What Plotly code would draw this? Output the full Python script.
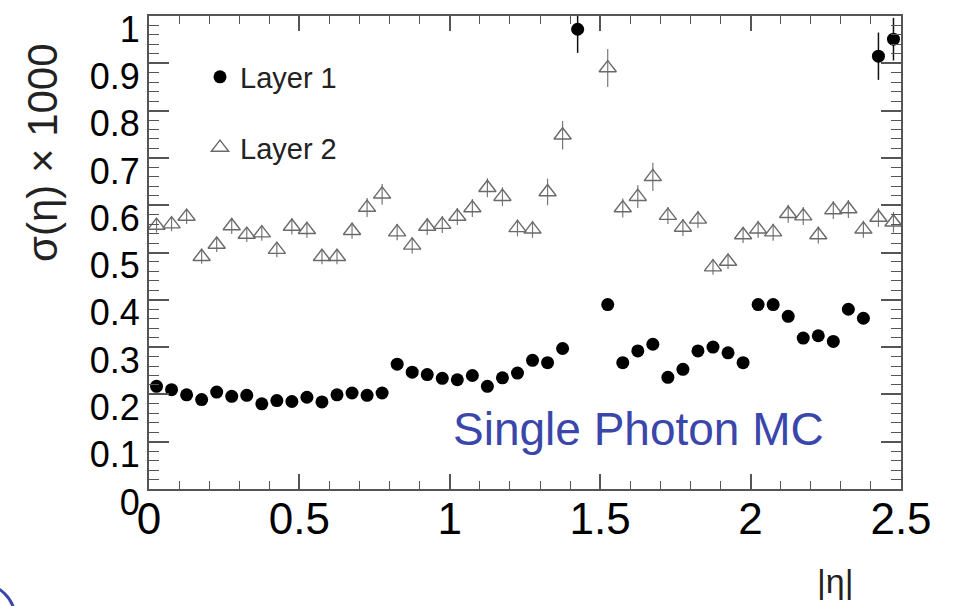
import plotly.graph_objects as go

# |eta| bin centres
eta = [0.025, 0.075, 0.125, 0.175, 0.225, 0.275, 0.325, 0.375, 0.425, 0.475,
       0.525, 0.575, 0.625, 0.675, 0.725, 0.775, 0.825, 0.875, 0.925, 0.975,
       1.025, 1.075, 1.125, 1.175, 1.225, 1.275, 1.325, 1.375, 1.425, 1.475,
       1.525, 1.575, 1.625, 1.675, 1.725, 1.775, 1.825, 1.875, 1.925, 1.975,
       2.025, 2.075, 2.125, 2.175, 2.225, 2.275, 2.325, 2.375, 2.425, 2.475]

layer1 = [0.217, 0.210, 0.199, 0.189, 0.205, 0.196, 0.198, 0.180, 0.187, 0.185,
          0.194, 0.184, 0.199, 0.203, 0.198, 0.203, 0.264, 0.247, 0.242, 0.234,
          0.231, 0.240, 0.217, 0.235, 0.245, 0.272, 0.267, 0.297, 0.972, None,
          0.390, 0.267, 0.292, 0.306, 0.236, 0.253, 0.292, 0.300, 0.288, 0.267,
          0.390, 0.390, 0.365, 0.319, 0.324, 0.312, 0.380, 0.361, 0.915, 0.951]
layer1_err = [0.005, 0.005, 0.005, 0.005, 0.005, 0.005, 0.005, 0.005, 0.005, 0.005,
              0.005, 0.005, 0.005, 0.005, 0.005, 0.005, 0.006, 0.006, 0.006, 0.006,
              0.006, 0.006, 0.006, 0.006, 0.006, 0.007, 0.007, 0.008, 0.050, None,
              0.010, 0.007, 0.007, 0.007, 0.007, 0.007, 0.007, 0.007, 0.007, 0.007,
              0.008, 0.008, 0.008, 0.008, 0.008, 0.008, 0.009, 0.009, 0.050, 0.045]

layer2 = [0.557, 0.560, 0.576, 0.491, 0.517, 0.556, 0.538, 0.541, 0.506, 0.555,
          0.548, 0.491, 0.491, 0.546, 0.595, 0.623, 0.543, 0.515, 0.555, 0.559,
          0.576, 0.594, 0.637, 0.618, 0.552, 0.549, 0.628, 0.748, None, None,
          0.890, 0.594, 0.618, 0.660, 0.578, 0.553, 0.570, 0.469, 0.481, 0.537,
          0.549, 0.543, 0.582, 0.577, 0.537, 0.590, 0.592, 0.549, 0.574, 0.564]
layer2_err = [0.015, 0.015, 0.016, 0.015, 0.016, 0.017, 0.016, 0.016, 0.016, 0.017,
              0.017, 0.016, 0.016, 0.017, 0.020, 0.022, 0.017, 0.017, 0.018, 0.018,
              0.018, 0.019, 0.020, 0.020, 0.018, 0.018, 0.028, 0.030, None, None,
              0.040, 0.020, 0.024, 0.030, 0.018, 0.018, 0.018, 0.016, 0.016, 0.017,
              0.018, 0.018, 0.019, 0.019, 0.018, 0.019, 0.019, 0.018, 0.020, 0.022]

FONT = "Liberation Sans, Arial, sans-serif"
L, R, T, B = 149, 54, 9, 117
W, H = 955, 606
PW, PH = W - L - R, H - T - B


def px(x):
    return (x - L) / PW


def py(y):
    return (H - B - y) / PH


fig = go.Figure()
fig.add_trace(go.Scatter(
    x=eta, y=layer1, mode="markers", name="Layer 1", legendgroup="a",
    marker=dict(symbol="circle", size=13, color="black"),
    error_y=dict(type="data", array=layer1_err, color="#111111",
                 thickness=1.5, width=0),
))
fig.add_trace(go.Scatter(
    x=eta, y=layer2, mode="markers", name="Layer 2", legendgroup="b",
    marker=dict(symbol="triangle-up-open", size=15, color="#6a6a6a",
                line=dict(width=1.4, color="#6a6a6a")),
    error_y=dict(type="data", array=layer2_err, color="#777777",
                 thickness=1.2, width=0),
))

axis_common = dict(
    showline=True, linecolor="#555555", linewidth=2, mirror="allticks",
    ticks="inside", tickcolor="#555555", tickwidth=1.5,
    showgrid=False, zeroline=False,
)

fig.update_xaxes(
    range=[0, 2.5], tickvals=[0, 0.5, 1, 1.5, 2, 2.5],
    ticktext=["0", "0.5", "1", "1.5", "2", "2.5"], ticklen=15,
    ticklabelstandoff=-10,
    tickfont=dict(family=FONT, size=44, color="black"),
    minor=dict(ticks="inside", dtick=0.1, ticklen=8, tickcolor="#555555",
               tickwidth=1.2),
    **axis_common,
)
fig.update_yaxes(
    range=[0, 1], tickvals=[0, 0.1, 0.2, 0.3, 0.4, 0.5, 0.6, 0.7, 0.8, 0.9, 1],
    ticktext=["0", "0.1", "0.2", "0.3", "0.4", "0.5", "0.6", "0.7", "0.8", "0.9", "1"],
    ticklen=20, ticklabelshift=13,
    tickfont=dict(family=FONT, size=36, color="black"),
    minor=dict(ticks="inside", dtick=0.02, ticklen=10, tickcolor="#555555",
               tickwidth=1.2),
    **axis_common,
)

fig.update_layout(
    width=W, height=H,
    margin=dict(l=L, r=R, t=T, b=B, pad=0),
    paper_bgcolor="white", plot_bgcolor="white",
    showlegend=True,
    legend=dict(x=px(200), y=py(45), xanchor="left", yanchor="top",
                font=dict(family=FONT, size=29, color="#222222"),
                bgcolor="rgba(0,0,0,0)", traceorder="grouped",
                tracegroupgap=30),
    annotations=[
        dict(text="σ(η) × 1000", x=px(43), y=py(148), xref="paper", yref="paper",
             xanchor="center", yanchor="middle",
             textangle=-90, showarrow=False,
             font=dict(family=FONT, size=42, color="#222222")),
        dict(text="|η|", x=px(835), y=py(582), xref="paper", yref="paper",
             xanchor="center", yanchor="middle",
             showarrow=False, font=dict(family=FONT, size=34, color="#222222")),
        dict(text="Single Photon MC", x=px(638), y=py(428), xref="paper",
             yref="paper", showarrow=False, xanchor="center", yanchor="middle",
             font=dict(family=FONT, size=46, color="rgb(58,70,170)")),
    ],
    shapes=[
        dict(type="circle", xref="paper", yref="paper",
             x0=px(-55), x1=px(15), y0=py(655), y1=py(585),
             line=dict(color="rgb(58,70,170)", width=3)),
    ],
)

fig.write_html("out.html")
